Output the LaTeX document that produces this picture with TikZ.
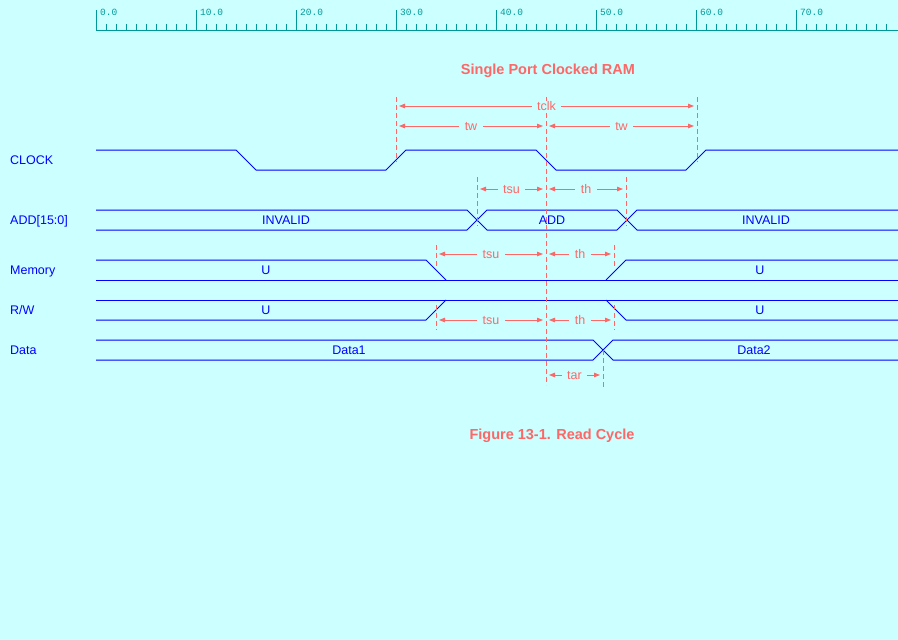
\documentclass[tikz,border=0pt]{standalone}
\usepackage{fontspec}
\setmainfont{Liberation Sans}
\newfontfamily\rulerfont{Liberation Mono}
\usepackage{tikz}
\definecolor{panel}{RGB}{204,255,255}
\definecolor{rulerteal}{RGB}{0,153,153}
\definecolor{wireblue}{RGB}{0,0,255}
\definecolor{salmon}{RGB}{255,102,102}
\usetikzlibrary{arrows.meta, positioning, calc}

\begin{document}
\begin{tikzpicture}[x=1pt, y=-1pt,
    wave/.style={draw=wireblue, line width=1pt},
    signame/.style={anchor=west, text=wireblue, font=\fontsize{12.5}{14}\selectfont,
                    inner sep=0pt, text height=9pt, text depth=0pt},
    busval/.style={text=wireblue, font=\fontsize{12.5}{14}\selectfont,
                   inner sep=0pt, text height=9pt, text depth=0pt},
    guide/.style={draw=salmon, line width=1pt, dash pattern=on 5pt off 3pt},
    timing/.style={draw=salmon, line width=1pt,
                   {Triangle[length=6pt,width=4.5pt]}-{Triangle[length=6pt,width=4.5pt]},
                   shorten <=3pt, shorten >=3pt},
    tlabel/.style={fill=panel, text=salmon, font=\fontsize{12.5}{14}\selectfont,
                   inner xsep=5.5pt, inner ysep=1pt, text height=9pt, text depth=0pt},
    heading/.style={text=salmon, font=\fontsize{14.5}{16}\selectfont\bfseries, inner sep=0pt}
]
    % Background
    \fill[panel] (0,0) rectangle (898,640);
    \useasboundingbox (0,0) rectangle (898,640);

    % Ruler
    \draw[rulerteal, line width=1pt] (96,30) -- (898,30);
    \foreach \i/\lab in {0/0.0, 1/10.0, 2/20.0, 3/30.0, 4/40.0, 5/50.0, 6/60.0, 7/70.0} {
        \draw[rulerteal, line width=1pt] (96+100*\i,10) -- (96+100*\i,30);
        \node[anchor=base west, inner sep=0pt, text=rulerteal, font=\rulerfont\fontsize{9.5}{10}\selectfont]
            (r\i) at (100+100*\i,15) {\lab};
    }
    \foreach \j in {1,...,79} {
        \draw[rulerteal, line width=1pt] (96+10*\j,24) -- (96+10*\j,30);
    }

    % Title
    \node[heading] (title) at (548,71) {Single Port Clocked RAM};

    % Signal names
    \node[signame] (clkname) at (10,160) {CLOCK};
    \node[signame] (addname) at (10,220) {ADD[15:0]};
    \node[signame] (memname) at (10,270) {Memory};
    \node[signame] (rwname) at (10,310) {R/W};
    \node[signame] (dataname) at (10,350) {Data};

    % Clock
    \draw[wave] (96,150) -- (236,150) -- (256,170) -- (386,170) -- (406,150) -- (536,150)
        -- (556,170) -- (686,170) -- (706,150) -- (898,150);

    % Address bus
    \draw[wave] (96,210) -- (467,210) -- (487,230) -- (617,230) -- (637,210) -- (898,210);
    \draw[wave] (96,230) -- (467,230) -- (487,210) -- (617,210) -- (637,230) -- (898,230);
    \node[busval] (addinv1) at (286,220) {INVALID};
    \node[busval] (addval) at (552,220) {ADD};
    \node[busval] (addinv2) at (766,220) {INVALID};

    % Memory
    \draw[wave] (96,260) -- (426,260) -- (446,280);
    \draw[wave] (606,280) -- (626,260) -- (898,260);
    \draw[wave] (96,280) -- (898,280);
    \node[busval] (memu1) at (266,270) {U};
    \node[busval] (memu2) at (760,270) {U};

    % Read/write
    \draw[wave] (96,300) -- (898,300);
    \draw[wave] (96,320) -- (426,320) -- (446,300);
    \draw[wave] (606,300) -- (626,320) -- (898,320);
    \node[busval] (rwu1) at (266,310) {U};
    \node[busval] (rwu2) at (760,310) {U};

    % Data
    \draw[wave] (96,340) -- (593,340) -- (613,360) -- (898,360);
    \draw[wave] (96,360) -- (593,360) -- (613,340) -- (898,340);
    \node[busval] (data1) at (349,350) {Data1};
    \node[busval] (data2) at (754,350) {Data2};

    % Guide lines
    \draw[guide] (396,97) -- (396,162);
    \draw[guide] (546,97) -- (546,385);
    \draw[guide] (697,97) -- (697,162);
    \draw[guide] (477,177) -- (477,226);
    \draw[guide] (626,177) -- (626,226);
    \draw[guide] (436,245) -- (436,268);
    \draw[guide] (614,245) -- (614,268);
    \draw[guide] (436,305) -- (436,330);
    \draw[guide] (614,305) -- (614,330);
    \draw[guide] (603,350) -- (603,388);

    % Clock period
    \coordinate (clkA) at (396,106);
    \coordinate (clkB) at (697,106);
    \draw[timing] (clkA) -- node[tlabel] (tclk) {tclk} (clkB);

    % Pulse widths
    \coordinate (twA) at (396,126);
    \coordinate (twM) at (546,126);
    \coordinate (twB) at (697,126);
    \draw[timing] (twA) -- node[tlabel] (tw1) {tw} (twM);
    \draw[timing] (twM) -- node[tlabel] (tw2) {tw} (twB);

    % Address setup / hold
    \coordinate (addA) at (477,189);
    \coordinate (addM) at (546,189);
    \coordinate (addB) at (626,189);
    \draw[timing] (addA) -- node[tlabel] (tsu1) {tsu} (addM);
    \draw[timing] (addM) -- node[tlabel] (th1) {th} (addB);

    % Memory setup / hold
    \coordinate (memA) at (436,254);
    \coordinate (memM) at (546,254);
    \coordinate (memB) at (614,254);
    \draw[timing] (memA) -- node[tlabel] (tsu2) {tsu} (memM);
    \draw[timing] (memM) -- node[tlabel] (th2) {th} (memB);

    % R/W setup / hold
    \coordinate (rwA) at (436,320);
    \coordinate (rwM) at (546,320);
    \coordinate (rwB) at (614,320);
    \draw[timing] (rwA) -- node[tlabel] (tsu3) {tsu} (rwM);
    \draw[timing] (rwM) -- node[tlabel] (th3) {th} (rwB);

    % Access time
    \coordinate (tarA) at (546,375);
    \coordinate (tarB) at (603,375);
    \draw[timing] (tarA) -- node[tlabel] (tar) {tar} (tarB);

    % Caption
    \node[heading] (caption) at (552,436) {Figure 13-1. Read Cycle};
\end{tikzpicture}
\end{document}
